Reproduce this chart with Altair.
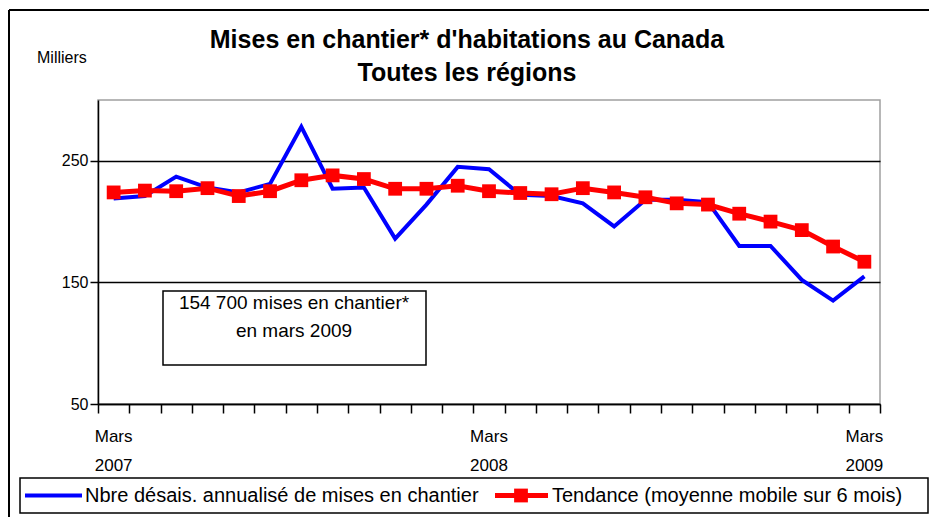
import altair as alt
import pandas as pd

# ---- data (thousands of units, monthly, March 2007 -> March 2009) ----
month_idx = list(range(25))
starts_sa = [219, 221, 237, 228, 224, 231, 278, 227, 228, 186, 214, 245, 243,
             222, 221, 215, 196, 218, 218, 216, 180, 180, 152, 135, 155]
trend = [224, 225.5, 225, 227.5, 221, 225, 234, 238, 235, 227, 227, 229.5, 225,
         223.5, 222.5, 227.5, 224, 220, 215, 214, 206.5, 200, 193, 179.5, 167]
label_idx = [0, 12, 24]
label_month = ["Mars", "Mars", "Mars"]
label_year = ["2007", "2008", "2009"]
y_ticks = [50, 150, 250]

title1 = "Mises en chantier* d'habitations au Canada"
title2 = "Toutes les régions"
unit = "Milliers"
note1 = "154 700 mises en chantier*"
note2 = "en mars 2009"
leg1 = "Nbre désais. annualisé de mises en chantier"
leg2 = "Tendance (moyenne mobile sur 6 mois)"

FONT = "Liberation Sans, Arial, sans-serif"

df = pd.DataFrame({"idx": month_idx, "brut": starts_sa, "tendance": trend})
lab = pd.DataFrame({"idx": label_idx, "m": label_month, "y": label_year})
one = pd.DataFrame({"a": [0]})

x_axis = alt.Axis(values=[k - 0.5 for k in range(26)], labels=False, ticks=True,
                  tickSize=9, tickColor="black", tickWidth=1.5,
                  domainColor="black", domainWidth=1.5, grid=False, title=None)
x_scale = alt.Scale(domain=[-0.5, 24.5], nice=False, zero=False)
y_axis = alt.Axis(values=y_ticks, grid=True, gridColor="black", gridWidth=1.5,
                  tickSize=8, tickColor="black", tickWidth=1.5,
                  labelFontSize=16, labelFont=FONT, labelColor="black",
                  labelPadding=2, domainColor="black", domainWidth=1.5, title=None)
y_scale = alt.Scale(domain=[50, 300], nice=False, zero=False)


def X(field="idx:Q"):
    return alt.X(field, scale=x_scale, axis=x_axis)


def Y(field):
    return alt.Y(field, scale=y_scale, axis=y_axis)


blue_line = alt.Chart(df).mark_line(color="#0000FF", strokeWidth=4).encode(x=X(), y=Y("brut:Q"))
red_line = alt.Chart(df).mark_line(color="#FF0000", strokeWidth=5).encode(x=X(), y=Y("tendance:Q"))
red_pts = alt.Chart(df).mark_square(color="#FF0000", size=190, opacity=1).encode(x=X(), y=Y("tendance:Q"))

xl1 = alt.Chart(lab).mark_text(fontSize=17, font=FONT, color="black").encode(
    x=X(), y=alt.value(337), text="m:N")
xl2 = alt.Chart(lab).mark_text(fontSize=17, font=FONT, color="black").encode(
    x=X(), y=alt.value(366), text="y:N")

# frame of the figure (cropped at right/bottom)
frame_top = alt.Chart(one).mark_rule(color="black", strokeWidth=2).encode(
    x=alt.value(-89), x2=alt.value(840), y=alt.value(-90))
frame_left = alt.Chart(one).mark_rule(color="black", strokeWidth=2).encode(
    x=alt.value(-89), y=alt.value(-90), y2=alt.value(420))

t1 = alt.Chart(one).mark_text(fontSize=25, font=FONT, fontWeight="bold", color="black").encode(
    x=alt.value(369), y=alt.value(-60), text=alt.value(title1))
t2 = alt.Chart(one).mark_text(fontSize=25, font=FONT, fontWeight="bold", color="black").encode(
    x=alt.value(369), y=alt.value(-27), text=alt.value(title2))
tu = alt.Chart(one).mark_text(fontSize=16, font=FONT, color="black", align="left").encode(
    x=alt.value(-61), y=alt.value(-42), text=alt.value(unit))

# annotation box
note_box = alt.Chart(one).mark_rect(fill="white", stroke="black", strokeWidth=1.5).encode(
    x=alt.value(65), x2=alt.value(328), y=alt.value(191), y2=alt.value(265))
n1 = alt.Chart(one).mark_text(fontSize=19, font=FONT, color="black").encode(
    x=alt.value(196), y=alt.value(203), text=alt.value(note1))
n2 = alt.Chart(one).mark_text(fontSize=19, font=FONT, color="black").encode(
    x=alt.value(196), y=alt.value(231), text=alt.value(note2))

# legend
leg_box = alt.Chart(one).mark_rect(fill="white", stroke="black", strokeWidth=1.5).encode(
    x=alt.value(-78), x2=alt.value(830), y=alt.value(378), y2=alt.value(413))
lb_line = alt.Chart(one).mark_rule(color="#0000FF", strokeWidth=4).encode(
    x=alt.value(-73), x2=alt.value(-16), y=alt.value(395.5))
lb_text = alt.Chart(one).mark_text(fontSize=20, font=FONT, color="black", align="left").encode(
    x=alt.value(-13), y=alt.value(396), text=alt.value(leg1))
lr_line = alt.Chart(one).mark_rule(color="#FF0000", strokeWidth=5).encode(
    x=alt.value(397), x2=alt.value(450), y=alt.value(395.5))
lr_pt = alt.Chart(one).mark_square(color="#FF0000", size=190, opacity=1).encode(
    x=alt.value(423), y=alt.value(395.5))
lr_text = alt.Chart(one).mark_text(fontSize=20, font=FONT, color="black", align="left").encode(
    x=alt.value(454), y=alt.value(396), text=alt.value(leg2))

chart = alt.layer(
    frame_top, frame_left, note_box, n1, n2,
    blue_line, red_line, red_pts, xl1, xl2,
    t1, t2, tu, leg_box, lb_line, lb_text, lr_line, lr_pt, lr_text,
).properties(
    width=782, height=304,
    autosize=alt.AutoSizeParams(type="none"),
    padding={"left": 90, "top": 92, "right": 49, "bottom": 113},
    background="white",
).configure_view(stroke="#a0a0a0", strokeWidth=1.5)

chart.save("out.html", embed_options={"renderer": "svg", "actions": False})
